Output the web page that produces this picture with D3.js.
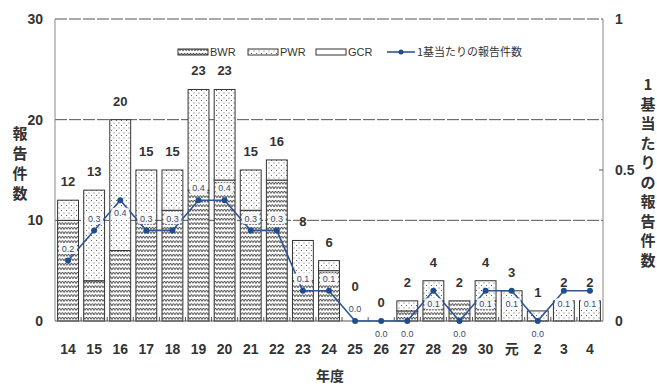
<!DOCTYPE html>
<html>
<head>
<meta charset="utf-8">
<script src="https://cdn.jsdelivr.net/npm/d3@7"></script>
<style>
  body { margin: 0; background: #fff; }
  svg text { font-family: 'Liberation Sans', Arial, 'Noto Sans CJK JP', sans-serif; }
</style>
</head>
<body>
<svg width="657" height="389"></svg>
<script>
// 年度
const years = ['14', '15', '16', '17', '18', '19', '20', '21', '22', '23', '24', '25', '26', '27', '28', '29', '30', '元', '2', '3', '4'];
// 報告件数 (炉型別)
const bwr = [10, 4, 7, 10, 11, 13, 14, 11, 14, 4, 5, 0, 0, 1, 2, 2, 2, 0, 0, 0, 0];
const pwr = [2, 9, 13, 5, 4, 10, 9, 4, 2, 4, 1, 0, 0, 1, 2, 0, 2, 3, 1, 2, 2];
const gcr = [0, 0, 0, 0, 0, 0, 0, 0, 0, 0, 0, 0, 0, 0, 0, 0, 0, 0, 0, 0, 0];
// 1基当たりの報告件数
const perUnit = [0.2, 0.3, 0.4, 0.3, 0.3, 0.4, 0.4, 0.3, 0.3, 0.1, 0.1, 0.0, 0.0, 0.0, 0.1, 0.0, 0.1, 0.1, 0.0, 0.1, 0.1];
// ラベルを点の上に置くか下に置くか
const perUnitLabelSide = ['up', 'up', 'down', 'up', 'up', 'up', 'up', 'up', 'up', 'up', 'up', 'up', 'down', 'down', 'down', 'down', 'down', 'down', 'down', 'down', 'down'];
const leftTicks = [0, 10, 20, 30];
const rightTicks = [0, 0.5, 1];

const svg = d3.select('svg');
const margin = { left: 55, right: 54, top: 19, bottom: 68 };
const width = 657, height = 389;
const innerW = width - margin.left - margin.right;
const innerH = height - margin.top - margin.bottom;

const ink = '#333';

// --- パターン ---
const defs = svg.append('defs');
const pBwr = defs.append('pattern').attr('id', 'bwr').attr('patternUnits', 'userSpaceOnUse')
  .attr('width', 6).attr('height', 4.5);
pBwr.append('rect').attr('width', 6).attr('height', 4.5).attr('fill', '#fff');
pBwr.append('path').attr('d', 'M0,3.4 L1.5,0.9 L3,3.4 L4.5,0.9 L6,3.4')
  .attr('fill', 'none').attr('stroke', '#333').attr('stroke-width', 0.9);

const pPwr = defs.append('pattern').attr('id', 'pwr').attr('patternUnits', 'userSpaceOnUse')
  .attr('width', 5).attr('height', 5);
pPwr.append('rect').attr('width', 5).attr('height', 5).attr('fill', '#fff');
pPwr.append('rect').attr('x', 1).attr('y', 1).attr('width', 1).attr('height', 1).attr('fill', '#666');
pPwr.append('rect').attr('x', 3.5).attr('y', 3.5).attr('width', 1).attr('height', 1).attr('fill', '#666');

const g = svg.append('g').attr('transform', `translate(${margin.left},${margin.top})`);

// --- スケール ---
const x = d3.scaleBand().domain(years).range([0, innerW]).paddingInner(0.2).paddingOuter(0.1);
const y = d3.scaleLinear().domain([0, 30]).range([innerH, 0]);
const y2 = d3.scaleLinear().domain([0, 1]).range([innerH, 0]);

// --- グリッド ---
g.append('g').selectAll('line').data(leftTicks.filter(d => d > 0)).join('line')
  .attr('x1', 0).attr('x2', innerW)
  .attr('y1', d => y(d)).attr('y2', d => y(d))
  .attr('stroke', '#555').attr('stroke-width', 1)
  .attr('stroke-dasharray', '12,2');

// 枠
g.append('line').attr('x1', 0).attr('x2', 0).attr('y1', 0).attr('y2', innerH).attr('stroke', '#888');
g.append('line').attr('x1', innerW).attr('x2', innerW).attr('y1', 0).attr('y2', innerH).attr('stroke', '#888');

// --- 積み上げ棒 ---
const rows = years.map((yr, i) => ({ year: yr, BWR: bwr[i], PWR: pwr[i], GCR: gcr[i] }));
const stack = d3.stack().keys(['BWR', 'PWR', 'GCR'])(rows);
const fills = { BWR: 'url(#bwr)', PWR: 'url(#pwr)', GCR: '#fff' };

g.append('g').selectAll('g').data(stack).join('g')
  .attr('fill', d => fills[d.key])
  .selectAll('rect').data(d => d.filter(s => s[1] > s[0])).join('rect')
  .attr('x', d => x(d.data.year))
  .attr('y', d => y(d[1]))
  .attr('width', x.bandwidth())
  .attr('height', d => y(d[0]) - y(d[1]))
  .attr('stroke', ink).attr('stroke-width', 1);

// x軸
g.append('line').attr('x1', 0).attr('x2', innerW).attr('y1', innerH).attr('y2', innerH)
  .attr('stroke', '#555').attr('stroke-width', 1);
g.append('g').selectAll('line').data(years.slice(1)).join('line')
  .attr('x1', d => x(d) - x.step() * x.paddingInner() / 2)
  .attr('x2', d => x(d) - x.step() * x.paddingInner() / 2)
  .attr('y1', innerH).attr('y2', innerH - 4)
  .attr('stroke', '#555');

// 1基当たりラベルの位置
const labelY = (d, i) => y2(d) + (perUnitLabelSide[i] === 'up' ? -12 : 13);

// 合計ラベル (上の小ラベルと重なるときは持ち上げる)
g.append('g').selectAll('text').data(rows).join('text')
  .attr('x', d => x(d.year) + x.bandwidth() / 2)
  .attr('y', (d, i) => Math.min(y(d.BWR + d.PWR + d.GCR) - 14,
    perUnitLabelSide[i] === 'up' ? labelY(perUnit[i], i) - 18 : Infinity))
  .attr('text-anchor', 'middle')
  .style('font-size', '13px').style('font-weight', 'bold').attr('fill', '#333')
  .text(d => d.BWR + d.PWR + d.GCR);

// --- 1基当たり折れ線 ---
const line = d3.line().x((d, i) => x(years[i]) + x.bandwidth() / 2).y(d => y2(d));
g.append('path').datum(perUnit)
  .attr('d', line).attr('fill', 'none').attr('stroke', '#2f5597').attr('stroke-width', 1.6);
g.append('g').selectAll('circle').data(perUnit).join('circle')
  .attr('cx', (d, i) => x(years[i]) + x.bandwidth() / 2)
  .attr('cy', d => y2(d)).attr('r', 3).attr('fill', '#1f4e8c');

const lbl = g.append('g').selectAll('g').data(perUnit).join('g')
  .attr('transform', (d, i) => `translate(${x(years[i]) + x.bandwidth() / 2},${labelY(d, i)})`);
lbl.filter(d => d > 0).append('rect')
  .attr('x', -9).attr('y', -5.5).attr('width', 18).attr('height', 11).attr('rx', 3)
  .attr('fill', '#fff').attr('opacity', 0.9);
lbl.append('text')
  .attr('text-anchor', 'middle').attr('dy', '0.35em')
  .style('font-size', '9px').attr('fill', '#3a4a6a')
  .text(d => d.toFixed(1));

// --- 軸ラベル ---
svg.append('g').selectAll('text').data(leftTicks).join('text')
  .attr('x', 43).attr('y', d => margin.top + y(d)).attr('dy', '0.35em')
  .attr('text-anchor', 'end').style('font-size', '14px').style('font-weight', 'bold').attr('fill', '#333')
  .text(d => d);
svg.append('g').selectAll('text').data(rightTicks).join('text')
  .attr('x', 615).attr('y', d => margin.top + y2(d)).attr('dy', '0.35em')
  .attr('text-anchor', 'start').style('font-size', '14px').style('font-weight', 'bold').attr('fill', '#333')
  .text(d => d);
g.append('g').selectAll('line').data([0.5]).join('line')
  .attr('x1', innerW - 4).attr('x2', innerW).attr('y1', d => y2(d)).attr('y2', d => y2(d)).attr('stroke', '#555');

svg.append('g').selectAll('text').data(years).join('text')
  .attr('x', d => margin.left + x(d) + x.bandwidth() / 2)
  .attr('y', 349).attr('dy', '0.35em')
  .attr('text-anchor', 'middle').style('font-size', '14px').style('font-weight', 'bold').attr('fill', '#333')
  .text(d => d);

svg.append('text').attr('x', 330).attr('y', 381).attr('text-anchor', 'middle')
  .style('font-size', '14px').style('font-weight', 'bold').attr('fill', '#333')
  .style('font-family', "'Noto Sans CJK JP', sans-serif").text('年度');

// 縦書きタイトル
const vertical = (str, cx, top, step) => {
  svg.append('g').selectAll('text').data(Array.from(str)).join('text')
    .attr('x', cx).attr('y', (d, i) => top + i * step).attr('dy', '0.35em')
    .attr('text-anchor', 'middle')
    .style('font-size', '15px').style('font-weight', 'bold').attr('fill', '#333')
    .style('font-family', "'Noto Sans CJK JP', sans-serif")
    .text(d => d);
};
vertical('報告件数', 20, 134, 20);
vertical('1基当たりの報告件数', 648, 85, 19.5);

// --- 凡例 ---
const legend = svg.append('g').attr('transform', 'translate(0,52)');
const legItems = [
  { name: 'BWR', fill: 'url(#bwr)', x0: 178 },
  { name: 'PWR', fill: 'url(#pwr)', x0: 248 },
  { name: 'GCR', fill: '#fff', x0: 316 }
];
legItems.forEach(it => {
  legend.append('rect').attr('x', it.x0).attr('y', -3).attr('width', 30).attr('height', 6)
    .attr('fill', it.fill).attr('stroke', ink);
  legend.append('text').attr('x', it.x0 + 32).attr('y', 0).attr('dy', '0.35em')
    .style('font-size', '11px').attr('fill', '#333').text(it.name);
});
legend.append('line').attr('x1', 387).attr('x2', 415).attr('y1', 0).attr('y2', 0)
  .attr('stroke', '#2f5597').attr('stroke-width', 1.6);
legend.append('circle').attr('cx', 401).attr('cy', 0).attr('r', 2.5).attr('fill', '#1f4e8c');
legend.append('text').attr('x', 417).attr('y', 0).attr('dy', '0.35em')
  .style('font-size', '11px').attr('fill', '#333')
  .style('font-family', "'Noto Sans CJK JP', sans-serif").text('1基当たりの報告件数');
</script>
</body>
</html>
